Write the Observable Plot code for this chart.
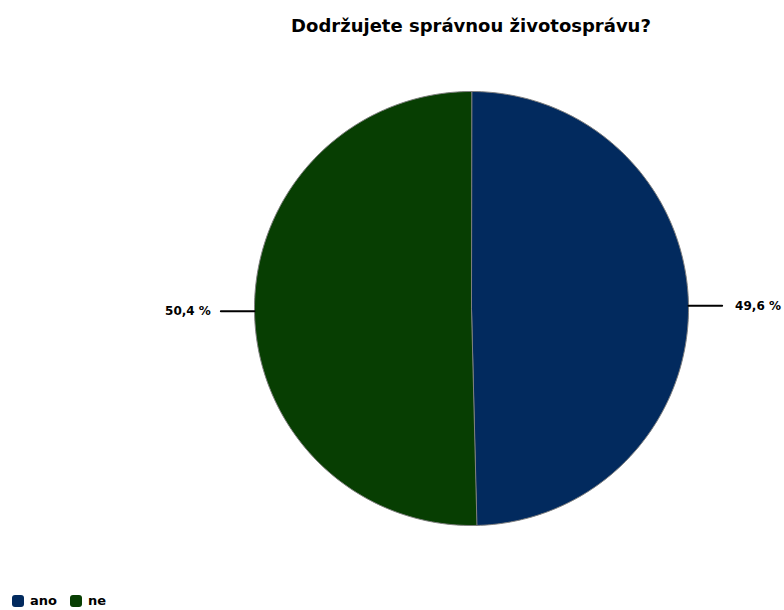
<!DOCTYPE html>
<html>
<head>
<meta charset="utf-8">
<script src="https://cdn.jsdelivr.net/npm/d3@7"></script>
<script src="https://cdn.jsdelivr.net/npm/@observablehq/plot@0.6"></script>
<style>
  html, body { margin: 0; padding: 0; background: #fff; }
  #wrap { position: relative; width: 784px; height: 610px; overflow: hidden; font-family: "DejaVu Sans", sans-serif; }
  #title { position: absolute; top: 15px; left: 0; width: 784px; padding-left: 158px; box-sizing: border-box; text-align: center; font-weight: bold; font-size: 18px; color: #000; }
  #legend { position: absolute; left: 12px; top: 593px; font-size: 13px; font-weight: bold; display: flex; align-items: center; }
  .sw { display: inline-block; width: 12px; height: 12px; border-radius: 3px; margin-right: 6px; }
  .it { display: flex; align-items: center; margin-right: 13px; }
  #chart { position: absolute; left: 0; top: 0; }
</style>
</head>
<body>
<div id="wrap">
  <div id="chart"></div>
  <div id="title">Dodržujete správnou životosprávu?</div>
  <div id="legend"></div>
</div>
<script>
const categories = ["ano", "ne"];
const values = [49.6, 50.4];
const labels = ["49,6 %", "50,4 %"];
const colors = ["#022a5e", "#073e02"];

const data = categories.map((c, i) => ({cat: c, value: values[i], label: labels[i]}));
const pie = d3.pie().sort(null).value(d => d.value)(data);

function pt(a, r) { return [r * Math.sin(a), -r * Math.cos(a)]; }

const slices = pie.map(p => {
  const coords = [[0, 0]];
  const n = 200;
  for (let k = 0; k <= n; k++) {
    const a = p.startAngle + (p.endAngle - p.startAngle) * k / n;
    coords.push(pt(a, 1));
  }
  coords.push([0, 0]);
  return {type: "Feature", properties: {cat: p.data.cat}, geometry: {type: "Polygon", coordinates: [coords]}};
});

const leaders = pie.map(p => {
  const mid = (p.startAngle + p.endAngle) / 2;
  const a = pt(mid, 1);
  const dir = Math.sin(mid) >= 0 ? 1 : -1;
  const b = [a[0] + dir * 0.155, a[1]];
  return {type: "Feature", properties: {}, geometry: {type: "LineString", coordinates: [a, b]}, end: b, dir, label: p.data.label};
});

// viewport in unit-radius coordinates (radius 217px, centre at 471,308)
const R = 217, CX = 471, CY = 308, W = 784, H = 610;
const x0 = -CX / R, x1 = (W - CX) / R, y0 = -CY / R, y1 = (H - CY) / R;
const domainBox = {type: "Feature", geometry: {type: "Polygon", coordinates: [[[x0,y0],[x1,y0],[x1,y1],[x0,y1],[x0,y0]]]}};

const textOpts = {
  x: d => d.end[0], y: d => d.end[1], text: d => d.label,
  fontWeight: "bold", fontSize: 12, fill: "#000",
  fontFamily: "DejaVu Sans", clip: false
};

const chart = Plot.plot({
  width: W,
  height: H,
  margin: 0,
  projection: {type: "identity", domain: domainBox},
  color: {domain: categories, range: colors},
  marks: [
    Plot.geo(slices, {fill: d => d.properties.cat, stroke: "#7f7f7f", strokeWidth: 1, clip: false}),
    Plot.geo(leaders, {stroke: "#000", strokeWidth: 2, clip: false}),
    Plot.text(leaders.filter(d => d.dir > 0), {...textOpts, textAnchor: "start", dx: 13}),
    Plot.text(leaders.filter(d => d.dir < 0), {...textOpts, textAnchor: "end", dx: -10})
  ],
  style: {fontFamily: "DejaVu Sans", background: "transparent"}
});
document.getElementById("chart").appendChild(chart);

const legend = document.getElementById("legend");
categories.forEach((c, i) => {
  const it = document.createElement("span");
  it.className = "it";
  it.innerHTML = `<span class="sw" style="background:${colors[i]}"></span>${c}`;
  legend.appendChild(it);
});
</script>
</body>
</html>
